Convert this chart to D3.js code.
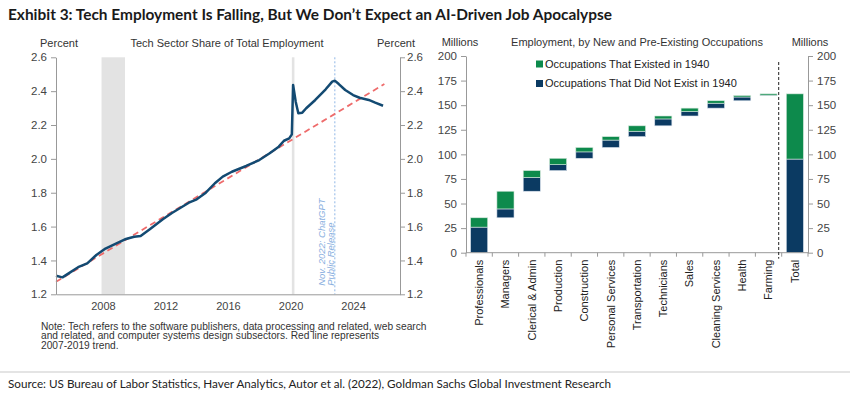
<!DOCTYPE html>
<html>
<head>
<meta charset="utf-8">
<script src="https://cdn.jsdelivr.net/npm/d3@7"></script>
<style>
  body { margin: 0; background: #fff; }
  svg text { font-family: "Liberation Sans", Arial, sans-serif; fill: #333; }
</style>
</head>
<body>
<svg id="chart" width="850" height="394"></svg>
<script>
// left panel: tech share of total employment (percent)
var techDates = ["2005-01","2005-06","2005-11","2006-06","2007-01","2007-08","2008-03","2008-11",
  "2009-06","2010-01","2010-06","2011-01","2011-11","2012-06","2012-12","2013-07","2014-01",
  "2014-08","2015-03","2015-09","2016-04","2017-03","2018-01","2018-09","2019-04","2019-08",
  "2019-12","2020-02","2020-03","2020-05","2020-07","2020-10","2021-01","2021-08","2022-04",
  "2022-09","2022-11","2023-02","2023-07","2024-01","2024-06","2025-01","2025-06","2025-12"];
var techShare = [1.31,1.30,1.325,1.36,1.383,1.432,1.47,1.50,
  1.525,1.54,1.545,1.584,1.643,1.68,1.708,1.741,1.761,
  1.80,1.856,1.895,1.924,1.958,1.993,2.033,2.072,2.107,
  2.121,2.145,2.436,2.338,2.27,2.273,2.299,2.348,2.411,
  2.456,2.462,2.442,2.407,2.377,2.361,2.348,2.332,2.314];
var trendDates = ["2005-01","2026-01"];
var trendValues = [1.274,2.442];
var recessions = [["2007-12","2009-06"],["2020-02","2020-04"]];
var chatgptDate = "2022-11";
var yearTicks = [2008,2012,2016,2020,2024];
var pctTicks = [1.2,1.4,1.6,1.8,2.0,2.2,2.4,2.6];

// right panel: employment waterfall (millions)
var occupations = ["Professionals","Managers","Clerical & Admin","Production","Construction",
  "Personal Services","Transportation","Technicians","Sales","Cleaning Services","Health","Farming"];
var newOcc = [26,9,14,6,6.5,7.5,5.5,7,4.5,5,3.8,0.4];
var existedOcc = [9.5,18,7,6.5,4.5,3.5,5.5,3,3.5,2.5,1.5,1.3];
var millionTicks = [0,25,50,75,100,125,150,175,200];

var GREEN = "#0d8a4c", NAVY = "#0b3a62";
var svg = d3.select("#chart");
var parse = d3.timeParse("%Y-%m");

// titles
svg.append("text").attr("x", 8).attr("y", 20)
  .style("font-family", "Lato, 'Open Sans', sans-serif").style("font-weight", 700)
  .style("font-size", "14.5px").style("fill", "#1a1a1a")
  .attr("textLength", 604).attr("lengthAdjust", "spacingAndGlyphs")
  .text("Exhibit 3: Tech Employment Is Falling, But We Don\u2019t Expect an AI-Driven Job Apocalypse");

svg.append("line").attr("x1", 0).attr("x2", 850).attr("y1", 372).attr("y2", 372)
  .attr("stroke", "#bbb").attr("stroke-width", 0.8);
svg.append("text").attr("x", 8).attr("y", 388)
  .style("font-family", "Lato, 'Open Sans', sans-serif").style("font-size", "11.5px").style("fill", "#222")
  .attr("textLength", 603).attr("lengthAdjust", "spacingAndGlyphs")
  .text("Source: US Bureau of Labor Statistics, Haver Analytics, Autor et al. (2022), Goldman Sachs Global Investment Research");

// ---------- left chart ----------
var L = { x0: 56, x1: 400, y0: 57.3, y1: 294.3 };
var xT = d3.scaleTime().domain([new Date(2005,0,1), new Date(2027,0,1)]).range([L.x0, L.x1]);
var yT = d3.scaleLinear().domain([1.2, 2.6]).range([L.y1, L.y0]);
var gl = svg.append("g");

gl.selectAll("rect.rec").data(recessions).enter().append("rect")
  .attr("x", function(d) { return xT(parse(d[0])); })
  .attr("width", function(d) { return xT(parse(d[1])) - xT(parse(d[0])); })
  .attr("y", yT(2.6)).attr("height", yT(1.2) - yT(2.6))
  .attr("fill", "#e3e3e3");

var xc = xT(parse(chatgptDate));
gl.append("line").attr("x1", xc).attr("x2", xc).attr("y1", yT(2.6)).attr("y2", yT(1.2))
  .attr("stroke", "#8fb6e6").attr("stroke-width", 1).attr("stroke-dasharray", "2,2");
gl.append("text").attr("transform", "translate(" + (xc - 10) + "," + yT(1.25) + ") rotate(-90)")
  .style("font-size", "9.5px").style("font-style", "italic").style("fill", "#8ab0e0")
  .text("Nov. 2022: ChatGPT");
gl.append("text").attr("transform", "translate(" + (xc - 1) + "," + yT(1.25) + ") rotate(-90)")
  .style("font-size", "9.5px").style("font-style", "italic").style("fill", "#8ab0e0")
  .text("Public Release");

gl.append("path").datum(trendDates.map(function(d, i) { return [parse(d), trendValues[i]]; }))
  .attr("fill", "none").attr("stroke", "#ee6b6b").attr("stroke-width", 1.8)
  .attr("stroke-dasharray", "6,4")
  .attr("d", d3.line().x(function(d) { return xT(d[0]); }).y(function(d) { return yT(d[1]); }));

gl.append("path").datum(techDates.map(function(d, i) { return [parse(d), techShare[i]]; }))
  .attr("fill", "none").attr("stroke", "#134a72").attr("stroke-width", 2.5)
  .attr("stroke-linejoin", "round")
  .attr("d", d3.line().x(function(d) { return xT(d[0]); }).y(function(d) { return yT(d[1]); }));

function styleAxis(g) {
  g.select(".domain").attr("stroke", "#999");
  g.selectAll(".tick line").attr("stroke", "#999");
  g.selectAll(".tick text").style("font-size", "11.5px").style("fill", "#444")
    .style("font-family", "'Liberation Sans', Arial, sans-serif");
}
gl.append("g").attr("transform", "translate(" + L.x0 + ",0)")
  .call(d3.axisLeft(yT).tickValues(pctTicks).tickFormat(d3.format(".1f")).tickSize(5).tickSizeOuter(0).tickPadding(4))
  .call(styleAxis);
gl.append("g").attr("transform", "translate(" + L.x1 + ",0)")
  .call(d3.axisRight(yT).tickValues(pctTicks).tickFormat(d3.format(".1f")).tickSize(5).tickSizeOuter(0).tickPadding(2))
  .call(styleAxis);
gl.append("g").attr("transform", "translate(0," + L.y1 + ")")
  .call(d3.axisBottom(xT).tickValues(yearTicks.map(function(y) { return new Date(y,0,1); }))
    .tickFormat(d3.timeFormat("%Y")).tickSize(0).tickPadding(8))
  .call(styleAxis)
  .selectAll(".tick text").style("font-size", "11px");

gl.append("text").attr("x", 59).attr("y", 47).attr("text-anchor", "middle").style("font-size", "11px").text("Percent");
gl.append("text").attr("x", 227).attr("y", 47).attr("text-anchor", "middle").style("font-size", "11px").text("Tech Sector Share of Total Employment");
gl.append("text").attr("x", 396).attr("y", 47).attr("text-anchor", "middle").style("font-size", "11px").text("Percent");

var noteLines = ["Note: Tech refers to the software publishers, data processing and related, web search",
  "and related, and computer systems design subsectors. Red line represents",
  "2007-2019 trend."];
gl.selectAll("text.note").data(noteLines).enter().append("text")
  .attr("x", 41).attr("y", function(d, i) { return 330 + i * 9.3; })
  .style("font-size", "10.2px").style("fill", "#333").text(function(d) { return d; });

// ---------- right chart ----------
var R = { x0: 466, x1: 808, y0: 56, y1: 252.7 };
var cats = occupations.concat(["Total"]);
var xB = d3.scaleBand().domain(cats).range([R.x0, R.x1]).paddingInner(0.35).paddingOuter(0.175);
var yB = d3.scaleLinear().domain([0, 200]).range([R.y1, R.y0]);
var gr = svg.append("g");

var base = 0, steps = [];
occupations.forEach(function(c, i) {
  steps.push({ cat: c, b: base, n: newOcc[i], e: existedOcc[i] });
  base += newOcc[i] + existedOcc[i];
});
steps.push({ cat: "Total", b: 0, n: d3.sum(newOcc), e: d3.sum(existedOcc) });

var bars = gr.selectAll("g.step").data(steps).enter().append("g");
bars.append("rect").attr("x", function(d) { return xB(d.cat); }).attr("width", xB.bandwidth())
  .attr("y", function(d) { return yB(d.b + d.n); })
  .attr("height", function(d) { return yB(d.b) - yB(d.b + d.n); })
  .attr("fill", NAVY).attr("stroke", "#d6dfeb").attr("stroke-width", 0.6);
bars.append("rect").attr("x", function(d) { return xB(d.cat); }).attr("width", xB.bandwidth())
  .attr("y", function(d) { return yB(d.b + d.n + d.e); })
  .attr("height", function(d) { return yB(d.b + d.n) - yB(d.b + d.n + d.e); })
  .attr("fill", GREEN).attr("stroke", "#d6e8dc").attr("stroke-width", 0.6);

gr.append("g").attr("transform", "translate(" + R.x0 + ",0)")
  .call(d3.axisLeft(yB).tickValues(millionTicks).tickSize(5).tickSizeOuter(0).tickPadding(4))
  .call(styleAxis);
gr.append("g").attr("transform", "translate(" + R.x1 + ",0)")
  .call(d3.axisRight(yB).tickValues(millionTicks).tickSize(5).tickSizeOuter(0).tickPadding(4))
  .call(styleAxis);

// category axis with ticks at band edges
gr.append("line").attr("x1", R.x0).attr("x2", R.x1).attr("y1", R.y1).attr("y2", R.y1).attr("stroke", "#999");
gr.selectAll("line.edge").data(d3.range(cats.length + 1)).enter().append("line")
  .attr("x1", function(i) { return R.x0 + i * xB.step(); }).attr("x2", function(i) { return R.x0 + i * xB.step(); })
  .attr("y1", R.y1).attr("y2", R.y1 + 4).attr("stroke", "#999");
gr.selectAll("text.cat").data(cats).enter().append("text")
  .attr("transform", function(d) { return "translate(" + (xB(d) + xB.bandwidth() / 2) + "," + (R.y1 + 7) + ") rotate(-90)"; })
  .attr("text-anchor", "end").attr("dy", "0.35em")
  .style("font-size", "11px").style("fill", "#222").text(function(d) { return d; });

var xs = R.x0 + occupations.length * xB.step() - 3;
gr.append("line").attr("x1", xs).attr("x2", xs).attr("y1", 62).attr("y2", R.y1 + 6)
  .attr("stroke", "#222").attr("stroke-width", 1).attr("stroke-dasharray", "3,2");

var legend = [["Occupations That Existed in 1940", GREEN], ["Occupations That Did Not Exist in 1940", NAVY]];
var lg = gr.selectAll("g.leg").data(legend).enter().append("g")
  .attr("transform", function(d, i) { return "translate(536," + (64 + i * 19.5) + ")"; });
lg.append("rect").attr("x", 0).attr("y", -3.5).attr("width", 7).attr("height", 7).attr("fill", function(d) { return d[1]; });
lg.append("text").attr("x", 9).attr("dy", "0.35em").style("font-size", "11px").style("fill", "#222").text(function(d) { return d[0]; });

gr.append("text").attr("x", 460).attr("y", 46).attr("text-anchor", "middle").style("font-size", "11px").text("Millions");
gr.append("text").attr("x", 637).attr("y", 46).attr("text-anchor", "middle").style("font-size", "11px").text("Employment, by New and Pre-Existing Occupations");
gr.append("text").attr("x", 810).attr("y", 46).attr("text-anchor", "middle").style("font-size", "11px").text("Millions");
</script>
</body>
</html>
